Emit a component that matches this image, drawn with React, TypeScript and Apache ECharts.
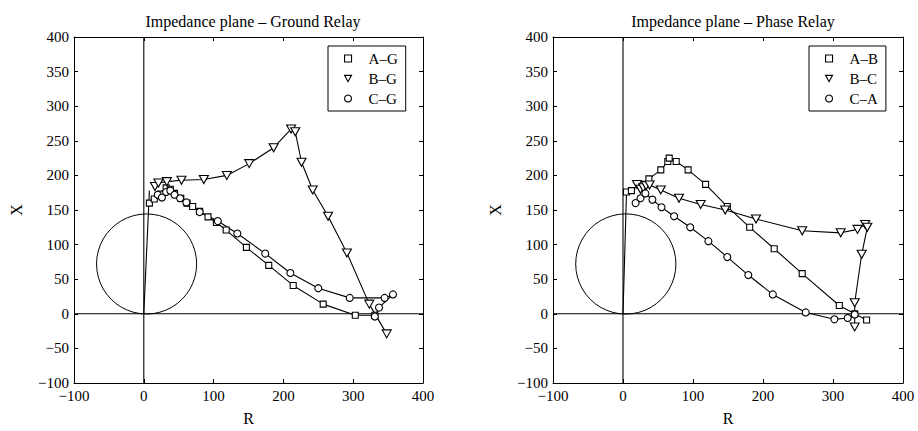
import React, { useEffect, useRef } from "react";
import * as echarts from "echarts";

const AXIS_MIN = -100;
const AXIS_MAX = 400;
const AXIS_STEP_X = 100;
const AXIS_STEP_Y = 50;

const titles = ["Impedance plane \u2013 Ground Relay", "Impedance plane \u2013 Phase Relay"];
const groundNames = ["A\u2013G", "B\u2013G", "C\u2013G"];
const phaseNames = ["A\u2013B", "B\u2013C", "C\u2013A"];

// Ground relay trajectories [R, X]
const agData: number[][] = [
  [8, 160], [15, 166], [24, 173], [32, 182], [38, 180], [44, 174], [53, 167], [62, 160],
  [70, 155], [80, 148], [92, 140], [104, 132], [118, 121], [147, 96], [179, 70], [214, 41],
  [257, 14], [303, -2], [331, -2],
];
const bgData: number[][] = [
  [16, 184], [21, 189], [33, 191], [54, 193], [86, 194], [119, 200], [151, 217], [186, 240],
  [211, 267], [217, 263], [226, 219], [242, 179], [264, 141], [291, 88], [323, 14], [348, -29],
];
const cgData: number[][] = [
  [20, 172], [26, 168], [32, 176], [38, 178], [44, 172], [52, 167], [61, 161], [80, 147],
  [106, 134], [134, 116], [174, 87], [210, 59], [250, 37], [295, 23], [345, 23], [357, 28],
  [337, 9], [331, -4],
];

// Phase relay trajectories [R, X]
const abData: number[][] = [
  [5, 176], [12, 178], [25, 187], [37, 195], [54, 208], [64, 220], [66, 225], [76, 220],
  [93, 208], [118, 187], [149, 155], [181, 125], [216, 94], [256, 58], [309, 12], [331, 0],
  [348, -9],
];
const bcData: number[][] = [
  [20, 187], [25, 180], [29, 182], [33, 185], [38, 186], [54, 179], [80, 167], [111, 158],
  [146, 150], [190, 137], [256, 120], [311, 117], [335, 122], [346, 129], [349, 125],
  [341, 86], [331, 16], [331, -19],
];
const caData: number[][] = [
  [18, 160], [25, 167], [32, 174], [42, 165], [55, 154], [73, 141], [96, 125], [122, 105],
  [149, 82], [179, 56], [214, 28], [261, 2], [302, -8], [321, -6], [331, -1],
];

// Mho characteristic circle: [centerR, centerX, radius]
const mhoCircle: number[][] = [[4, 72, 72]];
// Line impedance segments
const groundLine: number[][] = [[0, 0], [8, 178]];
const phaseLine: number[][] = [[0, 0], [5, 175]];
// Zero axes
const hAxisLine: number[][] = [[AXIS_MIN, 0], [AXIS_MAX, 0]];
const vAxisLine: number[][] = [[0, AXIS_MIN], [0, AXIS_MAX]];

const FONT = "'Liberation Serif', 'DejaVu Serif', serif";
const triPath = "path://M0,0 L10,0 L5,9 Z";

export default function App() {
  const ref = useRef<HTMLDivElement>(null);
  useEffect(() => {
    if (!ref.current) return;
    const chart = echarts.init(ref.current, undefined, { renderer: "svg" });

    const grids = [
      { left: 74, top: 37, width: 349, height: 350 },
      { left: 553, top: 37, width: 350, height: 350 },
    ];
    const fmt = (v: number) => String(v).replace("-", "\u2212");
    const xAxes: any[] = [];
    const yAxes: any[] = [];
    [0, 1].forEach((g) => {
      xAxes.push({
        type: "value", gridIndex: g, min: AXIS_MIN, max: AXIS_MAX, interval: AXIS_STEP_X,
        position: "bottom", name: "R", nameLocation: "middle", nameGap: 27,
        nameTextStyle: { fontFamily: FONT, fontSize: 16, color: "#000" },
        axisLine: { show: true, onZero: false, lineStyle: { color: "#000" } },
        axisTick: { show: true, inside: true, length: 4, lineStyle: { color: "#000" } },
        axisLabel: { fontFamily: FONT, fontSize: 15, color: "#000", margin: 5, formatter: fmt },
        splitLine: { show: false },
      });
      yAxes.push({
        type: "value", gridIndex: g, min: AXIS_MIN, max: AXIS_MAX, interval: AXIS_STEP_Y,
        position: "left", name: "X", nameLocation: "middle", nameGap: 50, nameRotate: 90,
        nameTextStyle: { fontFamily: FONT, fontSize: 16, color: "#000" },
        axisLine: { show: true, onZero: false, lineStyle: { color: "#000" } },
        axisTick: { show: true, inside: true, length: 4, lineStyle: { color: "#000" } },
        axisLabel: { fontFamily: FONT, fontSize: 15, color: "#000", margin: 5, formatter: fmt },
        splitLine: { show: false },
      });
    });
    [0, 1].forEach((g) => {
      xAxes.push({
        type: "value", gridIndex: g, min: AXIS_MIN, max: AXIS_MAX, interval: AXIS_STEP_X,
        position: "top",
        axisLine: { show: true, onZero: false, lineStyle: { color: "#000" } },
        axisTick: { show: true, inside: true, length: 4, lineStyle: { color: "#000" } },
        axisLabel: { show: false }, splitLine: { show: false },
      });
      yAxes.push({
        type: "value", gridIndex: g, min: AXIS_MIN, max: AXIS_MAX, interval: AXIS_STEP_Y,
        position: "right",
        axisLine: { show: true, onZero: false, lineStyle: { color: "#000" } },
        axisTick: { show: true, inside: true, length: 4, lineStyle: { color: "#000" } },
        axisLabel: { show: false }, splitLine: { show: false },
      });
    });

    const blackLine = { color: "#000", width: 1.1 };
    const markerStyle = { color: "#fff", borderColor: "#000", borderWidth: 1.1 };

    const plainLine = (data: number[][], g: number) => ({
      type: "line", xAxisIndex: g, yAxisIndex: g, data, showSymbol: false, symbol: "none",
      lineStyle: blackLine, silent: true, z: 1,
    });
    const circleSeries = (g: number) => ({
      type: "custom", xAxisIndex: g, yAxisIndex: g, data: mhoCircle, silent: true, z: 1,
      renderItem: (params: any, api: any) => {
        const c = api.coord([api.value(0), api.value(1)]);
        const s = api.size([api.value(2), api.value(2)]);
        return {
          type: "circle",
          shape: { cx: c[0], cy: c[1], r: (s[0] + s[1]) / 2 },
          style: { fill: "none", stroke: "#000", lineWidth: 1 },
        };
      },
    });
    const traj = (name: string, data: number[][], g: number, kind: number) => ({
      name, type: "line", xAxisIndex: g, yAxisIndex: g, data,
      symbol: kind === 0 ? "rect" : kind === 1 ? "triangle" : "circle",
      symbolSize: kind === 0 ? 6 : kind === 1 ? [9, 8] : 7,
      symbolRotate: kind === 1 ? 180 : 0,
      showAllSymbol: true,
      itemStyle: markerStyle, lineStyle: blackLine, z: 3,
    });

    const legendFor = (names: string[], g: number, left: number) => ({
      left, top: 46, orient: "vertical", selectedMode: false,
      borderColor: "#000", borderWidth: 1, borderRadius: 0,
      padding: [5, 8, 5, 16], itemGap: 5, itemWidth: 7, itemHeight: 7,
      textStyle: { fontFamily: FONT, fontSize: 15, color: "#000", padding: [0, 0, 0, 12] },
      data: [
        { name: names[0], icon: "rect", itemStyle: markerStyle },
        { name: names[1], icon: triPath, itemStyle: markerStyle },
        { name: names[2], icon: "circle", itemStyle: markerStyle },
      ],
    });

    chart.setOption({
      animation: false,
      backgroundColor: "#fff",
      title: [
        { text: titles[0], left: 248, top: 8, textAlign: "center",
          textStyle: { fontFamily: FONT, fontSize: 16, fontWeight: "normal", color: "#000" } },
        { text: titles[1], left: 728, top: 8, textAlign: "center",
          textStyle: { fontFamily: FONT, fontSize: 16, fontWeight: "normal", color: "#000" } },
      ],
      legend: [legendFor(groundNames, 0, 328), legendFor(phaseNames, 1, 809)],
      grid: grids,
      xAxis: xAxes,
      yAxis: yAxes,
      series: [
        plainLine(hAxisLine, 0), plainLine(vAxisLine, 0), plainLine(groundLine, 0), circleSeries(0),
        plainLine(hAxisLine, 1), plainLine(vAxisLine, 1), plainLine(phaseLine, 1), circleSeries(1),
        traj(groundNames[0], agData, 0, 0),
        traj(groundNames[1], bgData, 0, 1),
        traj(groundNames[2], cgData, 0, 2),
        traj(phaseNames[0], abData, 1, 0),
        traj(phaseNames[1], bcData, 1, 1),
        traj(phaseNames[2], caData, 1, 2),
      ],
    });
    return () => chart.dispose();
  }, []);
  return <div ref={ref} style={{ position: "fixed", left: 0, top: 0, width: 918, height: 431 }} />;
}
